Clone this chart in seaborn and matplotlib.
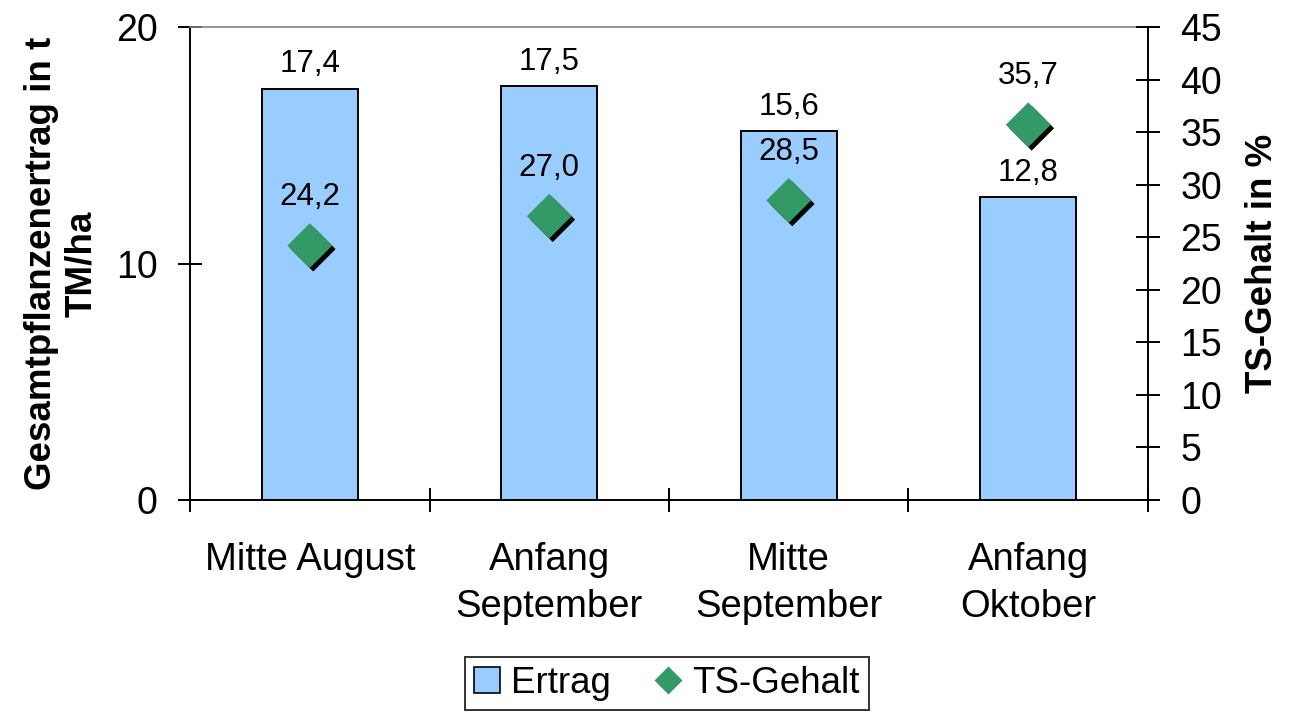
import numpy as np
import pandas as pd
import matplotlib
matplotlib.use("Agg")
import matplotlib.pyplot as plt
import matplotlib.patheffects as pe
from matplotlib.patches import Patch
from matplotlib.lines import Line2D
import seaborn as sns

# data
termine = ["Mitte August", "Anfang\nSeptember", "Mitte\nSeptember", "Anfang\nOktober"]
ertrag = [17.4, 17.5, 15.6, 12.8]          # t TM/ha (left axis)
ts_gehalt = [24.2, 27.0, 28.5, 35.7]       # % (right axis)
left_ticks = [0, 10, 20]
right_ticks = list(range(0, 50, 5))

BAR_COL = "#99CCFF"
DIA_COL = "#339966"

sns.set_theme(style="white")
plt.rcParams["font.family"] = ["Liberation Sans", "DejaVu Sans"]
plt.rcParams.update({"text.color": "black", "axes.labelcolor": "black",
                     "xtick.color": "black", "ytick.color": "black"})

df = pd.DataFrame({"Termin": termine, "Ertrag": ertrag, "TS": ts_gehalt})
df["pos"] = np.arange(len(df))

fig = plt.figure(figsize=(12.9, 7.13), dpi=100)
ax = fig.add_axes([0.1473, 0.2987, 0.7426, 0.6634])

sns.barplot(data=df, x="Termin", y="Ertrag", color=BAR_COL, saturation=1,
            edgecolor="black", linewidth=1.4, width=0.4, ax=ax)
ax.set_ylim(0, 20)
ax.set_xlim(-0.5, len(df) - 0.5)
ax.set_yticks(left_ticks)
ax.set_xlabel("")
ax.set_ylabel("Gesamtpflanzenertrag in t\nTM/ha", fontsize=26.5, fontweight="bold",
              labelpad=12)

# category boundaries as major ticks, names as minor ticks
ax.set_xticks(np.arange(len(df) + 1) - 0.5)
ax.set_xticklabels([])
ax.set_xticks(df["pos"], minor=True)
ax.set_xticklabels(termine, minor=True, fontsize=27.5, linespacing=1.4)
ax.tick_params(axis="x", which="minor", length=0, pad=30)
ax.tick_params(axis="x", which="major", direction="inout", length=17, width=1.4,
               color="black", bottom=True)
ax.tick_params(axis="y", direction="inout", length=17, width=1.4, color="black",
               left=True, labelsize=27, pad=15)

bar_txt = [f"{v:.1f}".replace(".", ",") for v in ertrag]
ax.bar_label(ax.containers[0], labels=bar_txt, padding=6.5, fontsize=22.5)

for side in ["left", "bottom"]:
    ax.spines[side].set_color("black")
    ax.spines[side].set_linewidth(1.4)
ax.spines["right"].set_visible(False)
ax.spines["top"].set_color("#808080")
ax.spines["top"].set_linewidth(1.2)

ax2 = ax.twinx()
sns.scatterplot(data=df, x="pos", y="TS", marker="D", s=520, color=DIA_COL,
                edgecolor="none", ax=ax2, zorder=3, legend=False)
ax2.collections[0].set_path_effects([
    pe.SimplePatchShadow(offset=(2.5, -2.5), shadow_rgbFace="black", alpha=1),
    pe.Normal()])
ax2.set_ylim(0, 45)
ax2.set_yticks(right_ticks)
ax2.set_xlabel("")
ax2.set_ylabel("TS-Gehalt in %", fontsize=26.5, fontweight="bold", labelpad=16)
ax2.tick_params(axis="y", direction="inout", length=17, width=1.4, color="black",
                right=True, labelsize=27, pad=15)
for side in ["left", "bottom", "top"]:
    ax2.spines[side].set_visible(False)
ax2.spines["right"].set_color("black")
ax2.spines["right"].set_linewidth(1.4)
ax.set_xlim(-0.5, len(df) - 0.5)

for x, v in zip(df["pos"], ts_gehalt):
    ax2.annotate(f"{v:.1f}".replace(".", ","), (x, v), xytext=(0, 24),
                 textcoords="offset points", ha="center", va="bottom", fontsize=22.5)

handles = [Patch(facecolor=BAR_COL, edgecolor="black", linewidth=1.2),
           Line2D([], [], marker="D", linestyle="none", markersize=14,
                  markerfacecolor=DIA_COL, markeredgecolor="none")]
leg = fig.legend(handles, ["Ertrag", "TS-Gehalt"], loc="upper center",
                 bbox_to_anchor=(667 / 1290, 1 - 657 / 713), ncol=2, fontsize=26.5,
                 frameon=True, fancybox=False, handlelength=0.7, handleheight=0.7,
                 handletextpad=0.3, columnspacing=1.2, borderpad=0.25,
                 borderaxespad=0)
leg.get_frame().set_edgecolor("black")
leg.get_frame().set_linewidth(1.4)

fig.savefig("out.png", dpi=100)
